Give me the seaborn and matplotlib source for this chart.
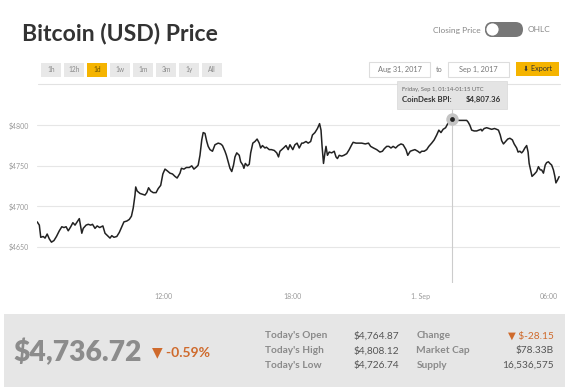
import numpy as np
import pandas as pd
import matplotlib
matplotlib.use("Agg")
import matplotlib.pyplot as plt
from matplotlib.patches import FancyBboxPatch, Rectangle, Circle
import seaborn as sns

# minutes after 2017-08-31 06:00 UTC and CoinDesk BPI close (USD)
minutes = [6, 12, 16, 23, 28, 34, 40, 46, 53, 60, 68, 75, 81, 87, 93, 100, 106, 112, 118, 124,
           131, 135, 143, 149, 156, 161, 168, 174, 181, 190, 196, 203, 210, 215, 221, 229, 236, 243, 249, 257,
           264, 270, 275, 280, 282, 286, 294, 301, 308, 313, 318, 324, 331, 339, 345, 352, 358, 364, 370, 378,
           385, 392, 398, 406, 410, 417, 424, 432, 439, 445, 453, 457, 462, 467, 471, 476, 481, 485, 490, 497,
           504, 513, 520, 525, 532, 536, 541, 546, 551, 556, 560, 565, 572, 576, 582, 585, 589, 595, 600, 604,
           610, 616, 622, 628, 632, 637, 644, 648, 656, 662, 670, 677, 682, 686, 696, 703, 709, 714, 722, 728,
           734, 740, 747, 751, 759, 765, 772, 777, 784, 791, 797, 801, 804, 808, 812, 815, 819, 824, 831, 838,
           843, 847, 852, 859, 865, 873, 880, 887, 891, 899, 905, 915, 925, 934, 940, 948, 957, 966, 973, 978,
           985, 991, 997, 1003, 1010, 1017, 1025, 1031, 1039, 1044, 1051, 1057, 1064, 1072, 1078, 1083, 1090, 1097, 1103, 1111,
           1118, 1125, 1131, 1137, 1143, 1150, 1156, 1163, 1167, 1174, 1181, 1187, 1195, 1202, 1209, 1213, 1218, 1223, 1230, 1237,
           1243, 1249, 1252, 1258, 1265, 1272, 1279, 1287, 1293, 1298, 1303, 1307, 1312, 1318, 1324, 1330, 1337, 1342, 1349, 1353,
           1358, 1363, 1367, 1372, 1377, 1381, 1384, 1389, 1392, 1399, 1405, 1410, 1415, 1419, 1424, 1429, 1433, 1438, 1442, 1447,
           1452, 1456, 1459, 1464, 1468]
price = [4681, 4677, 4662, 4663, 4661, 4666, 4660, 4656, 4658, 4663, 4670, 4675, 4674, 4675, 4670, 4675, 4680, 4677, 4681, 4685,
         4667, 4673, 4677, 4678, 4677, 4678, 4673, 4676, 4674, 4676, 4667, 4664, 4661, 4664, 4662, 4663, 4668, 4675, 4681, 4682,
         4684, 4688, 4698, 4714, 4724, 4719, 4716, 4715, 4714, 4717, 4723, 4719, 4717, 4717, 4722, 4726, 4740, 4746, 4744, 4741,
         4740, 4737, 4735, 4741, 4747, 4746, 4748, 4748, 4750, 4746, 4749, 4751, 4763, 4782, 4791, 4790, 4780, 4774, 4770, 4768,
         4776, 4778, 4777, 4775, 4768, 4763, 4755, 4747, 4743, 4751, 4761, 4766, 4763, 4755, 4751, 4747, 4753, 4750, 4752, 4766,
         4778, 4780, 4783, 4778, 4772, 4775, 4772, 4773, 4770, 4770, 4769, 4766, 4761, 4768, 4772, 4775, 4770, 4776, 4770, 4776,
         4778, 4772, 4778, 4778, 4780, 4778, 4780, 4788, 4791, 4796, 4802, 4794, 4774, 4753, 4766, 4774, 4763, 4767, 4766, 4768,
         4761, 4759, 4763, 4762, 4763, 4765, 4770, 4776, 4779, 4778, 4778, 4778, 4777, 4778, 4774, 4772, 4770, 4767, 4768, 4771,
         4774, 4774, 4772, 4774, 4772, 4775, 4777, 4776, 4770, 4763, 4768, 4769, 4770, 4768, 4766, 4768, 4768, 4770, 4774, 4778,
         4782, 4788, 4794, 4791, 4795, 4797, 4802, 4804, 4807.36, 4805, 4806, 4806, 4806, 4806, 4806, 4804, 4800, 4794, 4793, 4793,
         4794, 4795, 4793, 4796, 4797, 4796, 4795, 4796, 4795, 4794, 4788, 4781, 4777, 4780, 4783, 4784, 4782, 4777, 4772, 4767,
         4768, 4766, 4768, 4772, 4775, 4767, 4753, 4743, 4737, 4740, 4743, 4749, 4745, 4745, 4741, 4751, 4754, 4755, 4753, 4751,
         4745, 4737, 4729, 4733, 4736.72]

range_buttons = ["1h", "12h", "1d", "1w", "1m", "3m", "1y", "All"]
active_button = "1d"
y_ticks = [4650, 4700, 4750, 4800]
x_tick_minutes = [360, 720, 1080, 1440]
x_tick_labels = ["12:00", "18:00", "1. Sep", "06:00"]
stat_labels = ["Today's Open", "Today's High", "Today's Low"]
stat_values = ["$4,764.87", "$4,808.12", "$4,726.74"]
extra_labels = ["Change", "Market Cap", "Supply"]
extra_values = ["\u25BC $-28.15", "$78.33B", "16,536,575"]
last_price = "$4,736.72"
pct_change = "\u25BC -0.59%"
tooltip_time = "Friday, Sep 1, 01:14-01:15 UTC"
tooltip_value = "$4,807.36"

base = pd.Timestamp("2017-08-31 06:00")
df = pd.DataFrame({"time": base + pd.to_timedelta(minutes, unit="min"), "price": price})

sns.set_style("white")
plt.rcParams["font.family"] = ["Lato", "DejaVu Sans"]

W, H = 572, 390
fig = plt.figure(figsize=(W / 100, H / 100), dpi=100)
fig.patch.set_facecolor("white")

# main chart axes, placed in pixels
ax_l, ax_r, ax_t, ax_b = 37, 559.5, 88, 283
ax = fig.add_axes([ax_l / W, 1 - ax_b / H, (ax_r - ax_l) / W, (ax_b - ax_t) / H])
sns.lineplot(data=df, x="time", y="price", ax=ax, color="#222222", lw=1.1)
ax.set_ylim(4605.7, 4845.9)
ax.set_xlim(base + pd.Timedelta(minutes=5.5), base + pd.Timedelta(minutes=1469))
ax.set_yticks(y_ticks)
ax.set_yticklabels([f"${v}" for v in y_ticks])
ticks = [base + pd.Timedelta(minutes=m) for m in x_tick_minutes]
ax.set_xticks(ticks)
ax.set_xticklabels(x_tick_labels)
ax.set_xlabel("")
ax.set_ylabel("")
ax.grid(axis="y", color="#e6e6e6", lw=0.8)
ax.grid(axis="x", visible=False)
for s in ax.spines.values():
    s.set_visible(False)
ax.tick_params(axis="x", length=3.5, width=0.6, color="#cccccc", pad=4, labelsize=5, labelcolor="#999999")
ax.tick_params(axis="y", length=0, pad=6, labelsize=5, labelcolor="#999999")

# hovered point
i = int(np.argmax(df["price"]))
ax.axvline(df["time"][i], color="#cccccc", lw=0.8, zorder=1)
ax.scatter(df["time"][i], df["price"][i], s=80, color="#c4c4c4", zorder=3, lw=0)
ax.scatter(df["time"][i], df["price"][i], s=12, color="#222222", zorder=4, lw=0)

# overlay in pixel coordinates for the page chrome
ov = fig.add_axes([0, 0, 1, 1])
ov.set_xlim(0, W)
ov.set_ylim(H, 0)
ov.axis("off")
ov.patch.set_alpha(0)

ov.text(22, 40.5, "Bitcoin (USD) Price", fontsize=16.6, fontweight="bold", color="#333333", va="baseline")

# closing price / OHLC toggle
ov.text(481, 30, "Closing Price", fontsize=6, color="#888888", ha="right", va="center")
ov.add_patch(FancyBboxPatch((485, 22), 38, 15, boxstyle="round,pad=0,rounding_size=7.5",
                            fc="#777777", ec="none"))
ov.add_patch(Circle((492.5, 29.5), 6.8, fc="white", ec="#777777", lw=1))
ov.text(528, 30, "OHLC", fontsize=6, color="#888888", ha="left", va="center")

# range buttons
for k, lab in enumerate(range_buttons):
    x0 = 41 + k * 23
    fc = "#f5b400" if lab == active_button else "#e8e8e8"
    ov.add_patch(Rectangle((x0, 63), 20, 13.5, fc=fc, ec="none"))
    ov.text(x0 + 10, 69.8, lab, fontsize=4.8, color="#8a8a8a" if lab != active_button else "#6b5200",
            ha="center", va="center")

# date range boxes and export
ov.add_patch(Rectangle((369, 62), 61, 14.5, fc="white", ec="#dddddd", lw=0.8))
ov.text(399.5, 69.5, "Aug 31, 2017", fontsize=5.3, color="#777777", ha="center", va="center")
ov.text(439, 70, "to", fontsize=5.3, color="#777777", ha="center", va="center")
ov.add_patch(Rectangle((448, 62), 61, 14.5, fc="white", ec="#dddddd", lw=0.8))
ov.text(478.5, 69.5, "Sep 1, 2017", fontsize=5.3, color="#777777", ha="center", va="center")
ov.add_patch(Rectangle((516, 62), 43, 13.5, fc="#f5b400", ec="none"))
ov.text(537.5, 69, "\u2B07 Export", fontsize=5.2, color="#333333", ha="center", va="center",
        family=["Lato", "DejaVu Sans"])
ov.plot([38, 560], [84, 84], color="#e2e2e2", lw=0.8)

# tooltip
ov.add_patch(Rectangle((397, 81), 110, 27.5, fc="#e4e4e4", ec="#d8d8d8", lw=0.5, zorder=5))
ov.text(402, 90, tooltip_time, fontsize=4.2, color="#666666", va="center", zorder=6)
ov.text(402, 99.5, "CoinDesk BPI:", fontsize=5.6, fontweight="bold", color="#333333", va="center", zorder=6)
ov.text(501, 99.5, tooltip_value, fontsize=5.6, fontweight="bold", color="#333333", ha="right",
        va="center", zorder=6)

# bottom summary panel
ov.add_patch(Rectangle((4, 314), 561, 73, fc="#e6e6e6", ec="none"))
ov.text(13, 361.5, last_price, fontsize=20.3, fontweight="heavy", color="#8c8c8c", va="baseline")
ov.text(152, 356, pct_change, fontsize=10, fontweight="bold", color="#cf6a2c", va="baseline",
        family=["Lato", "DejaVu Sans"])
rows_y = [335.7, 350.7, 365.3]
for k in range(3):
    ov.text(265, rows_y[k], stat_labels[k], fontsize=7.3, fontweight="bold", color="#8a8a8a", va="center")
    ov.text(354, rows_y[k], stat_values[k], fontsize=7.3, color="#555555", va="center")
    ov.text(416.5, rows_y[k], extra_labels[k], fontsize=7.3, fontweight="bold", color="#8a8a8a", va="center")
    ov.text(553.5, rows_y[k], extra_values[k], fontsize=7.3, ha="right", va="center",
            color="#cf6a2c" if k == 0 else "#555555", family=["Lato", "DejaVu Sans"])

fig.savefig("out.png", dpi=100)
